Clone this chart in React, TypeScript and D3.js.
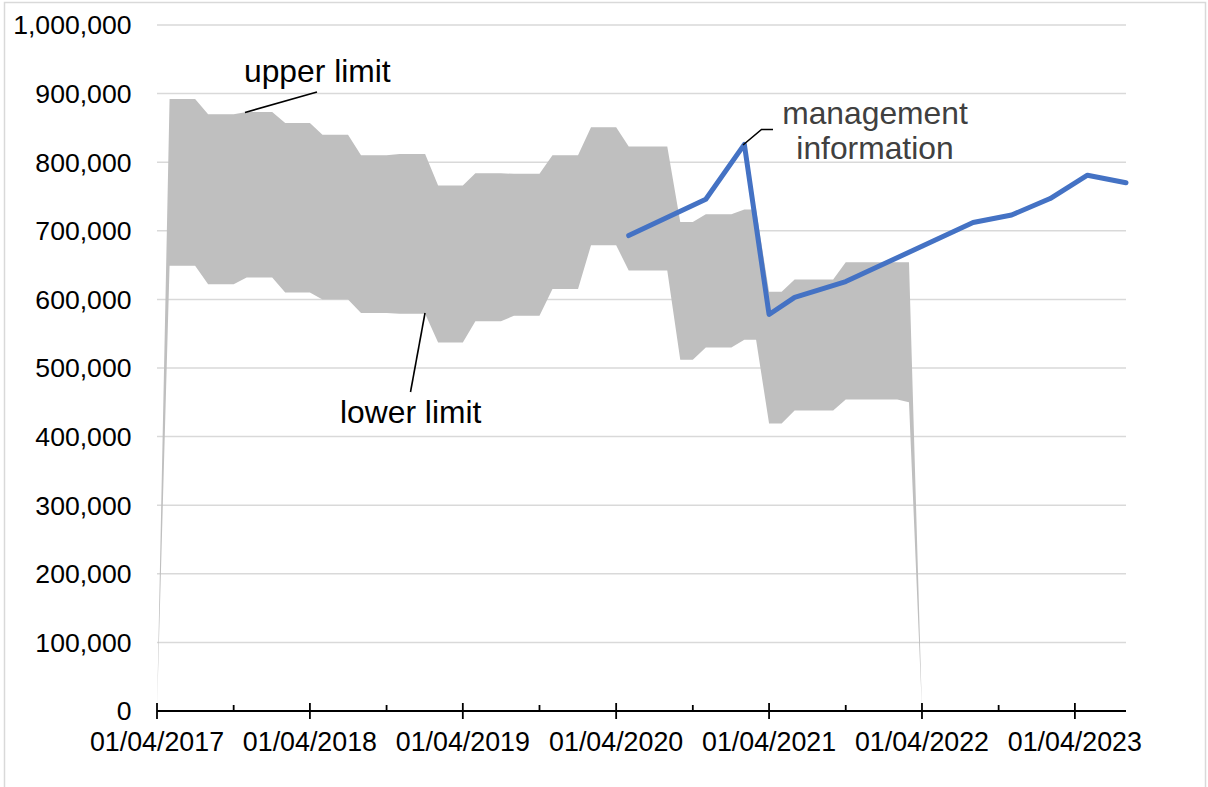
import React, { useEffect, useRef } from 'react';
import * as d3 from 'd3';

// monthly band, first point 01/04/2017, last point 01/04/2022
const bandStart = '2017-04-01';
const upperLimit = [
  0,
  892000, 892000, 892000,
  870000, 870000, 870000,
  873000, 873000, 873000,
  857000, 857000, 857000,
  840000, 840000, 840000,
  810000, 810000, 810000,
  812000, 812000, 812000,
  766000, 766000, 766000,
  784000, 784000, 784000,
  783000, 783000, 783000,
  810000, 810000, 810000,
  851000, 851000, 851000,
  823000, 823000, 823000, 823000,
  713000, 713000,
  724000, 724000, 724000,
  731000, 731000,
  611000, 611000,
  629000, 629000, 629000, 629000,
  654000, 654000, 654000, 654000, 654000, 654000,
  0,
];
const lowerLimit = [
  0,
  649000, 649000, 649000,
  622000, 622000, 622000,
  632000, 632000, 632000,
  610000, 610000, 610000,
  600000, 600000, 600000,
  580000, 580000, 580000,
  579000, 579000, 579000,
  537000, 537000, 537000,
  568000, 568000, 568000,
  576000, 576000, 576000,
  615000, 615000, 615000,
  679000, 679000, 679000,
  642000, 642000, 642000, 642000,
  512000, 512000,
  530000, 530000, 530000,
  541000, 541000,
  419000, 419000,
  438000, 438000, 438000, 438000,
  454000, 454000, 454000, 454000, 454000, 450000,
  0,
];

// management information line
const miDates = [
  '2020-05-01', '2020-11-01', '2021-02-01', '2021-04-01', '2021-06-01', '2021-10-01',
  '2022-08-01', '2022-11-01', '2023-02-01', '2023-05-01', '2023-08-01',
];
const miValues = [693000, 746000, 826000, 578000, 603000, 626000, 712000, 723000, 747000, 781000, 770000];

const yTicks = [0, 100000, 200000, 300000, 400000, 500000, 600000, 700000, 800000, 900000, 1000000];
const majorTicks = ['2017-04-01', '2018-04-01', '2019-04-01', '2020-04-01', '2021-04-01', '2022-04-01', '2023-04-01'];
const minorTicks = ['2017-10-01', '2018-10-01', '2019-10-01', '2020-10-01', '2021-10-01', '2022-10-01'];
const xDomain = ['2017-04-01', '2023-08-01'];

const FONT = '"Liberation Sans", Arial, sans-serif';

const App = () => {
  const ref = useRef<SVGSVGElement>(null);

  useEffect(() => {
    const width = 1208;
    const height = 787;
    const parse = d3.timeParse('%Y-%m-%d');
    const svg = d3.select(ref.current);
    svg.selectAll('*').remove();

    const x = d3.scaleTime()
      .domain(xDomain.map(d => parse(d) as Date))
      .range([157, 1126]);
    const y = d3.scaleLinear().domain([0, 1000000]).range([711, 25]);

    // chart border
    svg.append('rect')
      .attr('x', 4.5).attr('y', 2.5)
      .attr('width', 1201).attr('height', 820)
      .attr('fill', 'white')
      .attr('stroke', '#d9d9d9')
      .attr('stroke-width', 1.5);

    // gridlines
    svg.selectAll('line.grid')
      .data(yTicks.filter(d => d > 0))
      .enter()
      .append('line')
      .attr('class', 'grid')
      .attr('x1', x.range()[0])
      .attr('x2', x.range()[1])
      .attr('y1', d => y(d))
      .attr('y2', d => y(d))
      .attr('stroke', '#d9d9d9')
      .attr('stroke-width', 1.5);

    // band between lower and upper limit
    const start = parse(bandStart) as Date;
    const band = upperLimit.map((u, i) => ({
      date: d3.timeMonth.offset(start, i),
      upper: u,
      lower: lowerLimit[i],
    }));
    const area = d3.area<any>()
      .x(d => x(d.date))
      .y0(d => y(d.lower))
      .y1(d => y(d.upper));
    svg.append('path')
      .datum(band)
      .attr('d', area)
      .attr('fill', '#bfbfbf');

    // management information
    const mi = miDates.map((d, i) => ({ date: parse(d) as Date, value: miValues[i] }));
    const line = d3.line<any>()
      .x(d => x(d.date))
      .y(d => y(d.value));
    svg.append('path')
      .datum(mi)
      .attr('d', line)
      .attr('fill', 'none')
      .attr('stroke', '#4472c4')
      .attr('stroke-width', 5)
      .attr('stroke-linejoin', 'round')
      .attr('stroke-linecap', 'round');

    // x axis
    const axisY = y(0);
    svg.append('line')
      .attr('x1', x.range()[0]).attr('x2', x.range()[1])
      .attr('y1', axisY).attr('y2', axisY)
      .attr('stroke', 'black').attr('stroke-width', 1.8);
    svg.selectAll('line.major')
      .data(majorTicks)
      .enter()
      .append('line')
      .attr('x1', d => x(parse(d) as Date))
      .attr('x2', d => x(parse(d) as Date))
      .attr('y1', axisY - 8).attr('y2', axisY + 8)
      .attr('stroke', 'black').attr('stroke-width', 1.8);
    svg.selectAll('line.minor')
      .data(minorTicks)
      .enter()
      .append('line')
      .attr('x1', d => x(parse(d) as Date))
      .attr('x2', d => x(parse(d) as Date))
      .attr('y1', axisY - 6).attr('y2', axisY)
      .attr('stroke', 'black').attr('stroke-width', 1.8);

    const fmtDate = d3.timeFormat('%d/%m/%Y');
    svg.selectAll('text.xlab')
      .data(majorTicks)
      .enter()
      .append('text')
      .attr('x', d => x(parse(d) as Date))
      .attr('y', 751)
      .attr('text-anchor', 'middle')
      .attr('font-family', FONT)
      .attr('font-size', 26.8)
      .attr('fill', 'black')
      .text(d => fmtDate(parse(d) as Date));

    const fmtNum = d3.format(',');
    svg.selectAll('text.ylab')
      .data(yTicks)
      .enter()
      .append('text')
      .attr('x', 131.5)
      .attr('y', d => y(d))
      .attr('dy', '0.35em')
      .attr('text-anchor', 'end')
      .attr('font-family', FONT)
      .attr('font-size', 26.6)
      .attr('fill', 'black')
      .text(d => fmtNum(d));

    // annotations
    const label = (tx, ty, txt, anchor = 'start', color = 'black') =>
      svg.append('text')
        .attr('x', tx).attr('y', ty)
        .attr('text-anchor', anchor)
        .attr('font-family', FONT)
        .attr('font-size', 31.8)
        .attr('fill', color)
        .text(txt);

    label(244, 82, 'upper limit');
    svg.append('line')
      .attr('x1', 317).attr('y1', 92)
      .attr('x2', 245).attr('y2', 112.5)
      .attr('stroke', 'black').attr('stroke-width', 1.6);

    label(340, 422.5, 'lower limit');
    svg.append('line')
      .attr('x1', 425).attr('y1', 313)
      .attr('x2', 410.5).attr('y2', 392)
      .attr('stroke', 'black').attr('stroke-width', 1.6);

    label(875, 123.5, 'management', 'middle', '#404040');
    label(875, 158.5, 'information', 'middle', '#404040');
    svg.append('path')
      .attr('d', 'M773,129.5 L761.5,129.5 L743,145')
      .attr('fill', 'none')
      .attr('stroke', 'black').attr('stroke-width', 1.6);

    svg.attr('width', width).attr('height', height);
  }, []);

  return (
    <svg
      ref={ref}
      width={1208}
      height={787}
      style={{ position: 'absolute', left: 0, top: 0, background: 'white' }}
    />
  );
};

export default App;
